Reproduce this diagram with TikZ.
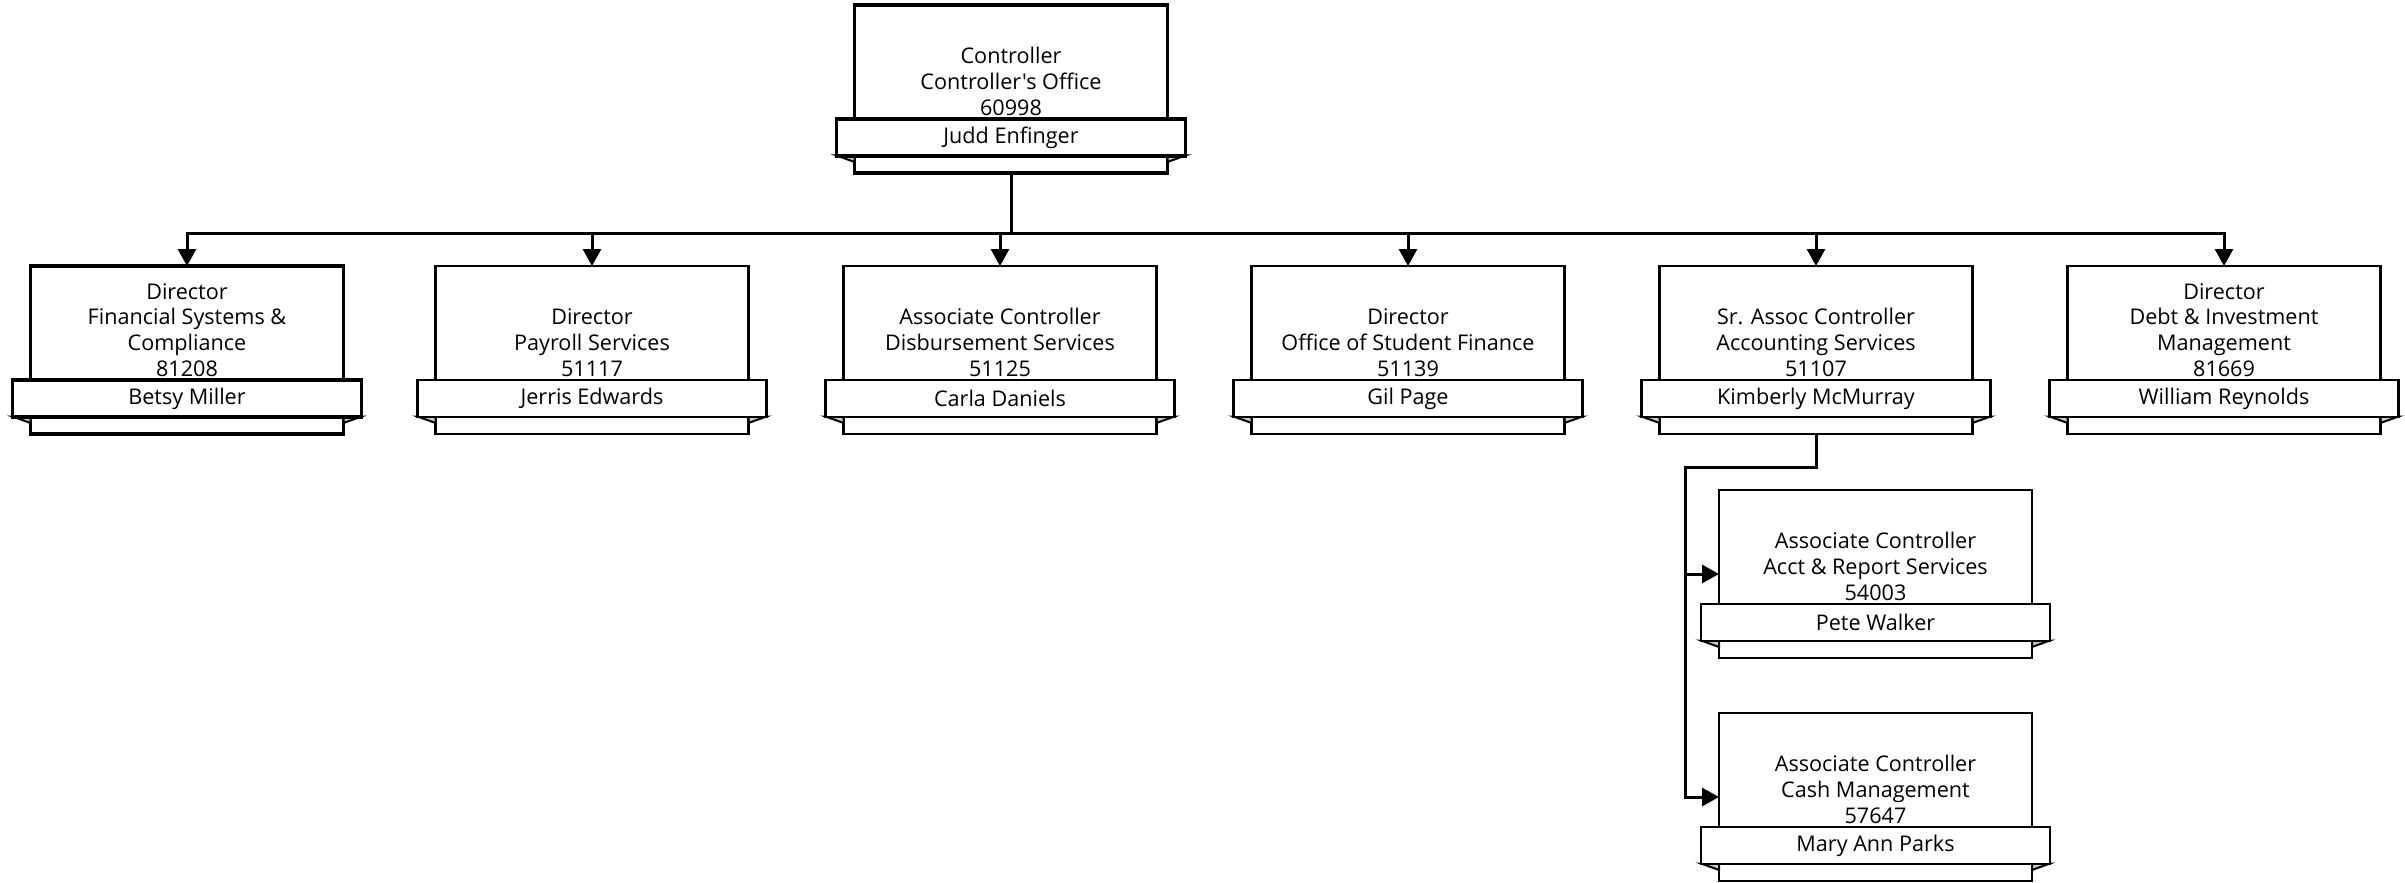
\documentclass[tikz,border=0pt]{standalone}
\usepackage{fontspec}
\setmainfont{Open Sans}[Ligatures=TeXOff]
\usetikzlibrary{arrows.meta}
\definecolor{foldgray}{HTML}{C8C8C8}
\tikzset{
  unitbox/.style={draw=black, fill=white, line width=1.25pt, minimum width=156.5pt, minimum height=84pt, inner sep=0pt, outer sep=0pt, anchor=north},
  titletext/.style={align=center, inner sep=0pt, anchor=south, font=\fontsize{10.8pt}{12.85pt}\selectfont},
  ribbon/.style={draw=black, fill=white, line width=1.25pt, minimum width=174.5pt, minimum height=18.5pt, inner sep=0pt, outer sep=0pt, font=\fontsize{10.8pt}{12.85pt}\selectfont},
  fold/.style={draw=black, fill=foldgray, line width=1pt, line join=miter},
  heavy/.style={line width=1.6pt},
  conn/.style={draw=black, line width=1.5pt},
  arr/.style={conn, -{Triangle[length=8.5pt,width=9pt]}}
}
\newcommand{\orgunit}[6]{%
  \node[unitbox,#6] (#1) at (#2,#3) {};
  \node[titletext] (#1-t) at (#2,#3+111) {#4};
  \path[fold] (#2-174.5,#3+150.5) -- (#2-156.5,#3+150.5) -- (#2-156.5,#3+157) -- cycle;
  \path[fold] (#2+174.5,#3+150.5) -- (#2+156.5,#3+150.5) -- (#2+156.5,#3+157) -- cycle;
  \node[ribbon,#6] (#1-r) at (#2,#3+132.5) {#5};
}
\begin{document}
\begin{tikzpicture}[x=0.5pt,y=-0.5pt]
\useasboundingbox (0,0) rectangle (2405,883);

\orgunit{top}{1011}{5}{Controller\\Controller's Office\\60998}{Judd Enfinger}{heavy}

\orgunit{c1}{187}{266}{Director\\Financial Systems \&\\Compliance\\81208}{Betsy Miller}{heavy}
\orgunit{c2}{592}{266}{Director\\Payroll Services\\51117}{Jerris Edwards}{}
\orgunit{c3}{1000}{266}{Associate Controller\\Disbursement Services\\51125}{Carla Daniels}{}
\orgunit{c4}{1408}{266}{Director\\Office of Student Finance\\51139}{Gil Page}{}
\orgunit{c5}{1816}{266}{Sr. Assoc Controller\\Accounting Services\\51107}{Kimberly McMurray}{}
\orgunit{c6}{2224}{266}{Director\\Debt \& Investment\\Management\\81669}{William Reynolds}{}

\orgunit{s1}{1875.5}{490}{Associate Controller\\Acct \& Report Services\\54003}{Pete Walker}{}
\orgunit{s2}{1875.5}{713}{Associate Controller\\Cash Management\\57647}{Mary Ann Parks}{}

\coordinate (bus) at (0,233);
\coordinate (sbus) at (1685,467);

\foreach \c in {c1,c2,c3,c4,c5,c6}{
  \draw[arr] (top.south) -- (top.south |- bus) -| (\c.north);
}
\draw[arr] (c5.south) -- (c5.south |- sbus) -- (sbus) |- (s1.west);
\draw[arr] (c5.south) -- (c5.south |- sbus) -- (sbus) |- (s2.west);
\end{tikzpicture}
\end{document}
